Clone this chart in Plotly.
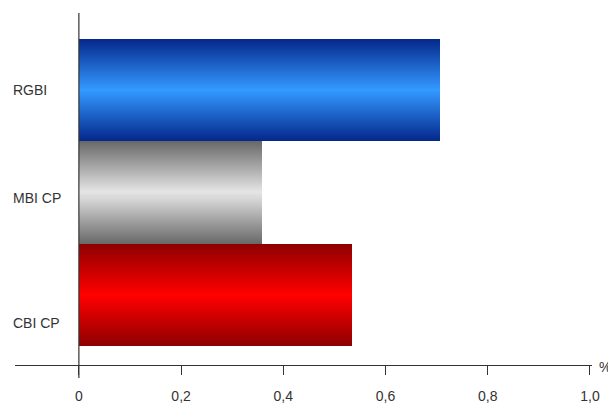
import plotly.graph_objects as go

categories = ["CBI CP", "MBI CP", "RGBI"]
values = [0.534, 0.358, 0.706]
edge_colors = [(142, 0, 0), (105, 105, 105), (5, 40, 140)]
center_colors = [(255, 0, 0), (228, 228, 228), (51, 153, 255)]
tick_vals = [0, 0.2, 0.4, 0.6, 0.8, 1.0]
tick_text = ["0", "0,2", "0,4", "0,6", "0,8", "1,0"]
label_shift = [-28, -6, 0]

N = 51
fig = go.Figure()
for k in range(N):
    t = k / (N - 1)
    w = 1.0 - k / N
    cols = []
    for e, c in zip(edge_colors, center_colors):
        r = [round(e[i] + (c[i] - e[i]) * t) for i in range(3)]
        cols.append(f"rgb({r[0]},{r[1]},{r[2]})")
    fig.add_trace(go.Bar(
        y=categories, x=values, orientation="h", width=w,
        marker=dict(color=cols, line=dict(width=0)),
        hoverinfo="skip", showlegend=False,
    ))

for cat, s in zip(categories, label_shift):
    fig.add_annotation(x=0, xref="paper", xanchor="left", xshift=-4, y=cat, yref="y",
                       yshift=s, text=cat, showarrow=False,
                       font=dict(size=14, color="#333333"))

fig.add_annotation(x=1, xref="paper", xanchor="left", xshift=5, y=0, yref="paper",
                   yanchor="middle", yshift=-2, text="%", showarrow=False,
                   font=dict(size=14, color="#333333"))

fig.add_shape(type="line", xref="x", yref="paper", x0=0, x1=0, y0=-0.037, y1=1,
              line=dict(color="#333333", width=1.2))

# page body has an 8px default margin, so the figure is smaller and margins offset
fig.update_layout(
    width=608, height=397,
    margin=dict(l=7, r=24, t=5, b=40, autoexpand=False),
    paper_bgcolor="white", plot_bgcolor="white",
    barmode="overlay", bargap=0,
    font=dict(family="Liberation Sans, Arial, sans-serif", size=14, color="#333333"),
    xaxis=dict(range=[-0.125, 1.004], showgrid=False, zeroline=False, automargin=False,
               showline=True, linecolor="#333333", linewidth=1.2,
               tickvals=tick_vals, ticktext=tick_text,
               ticks="outside", ticklen=9, tickcolor="#333333", tickwidth=1.2,
               ticklabelstandoff=9,
               tickfont=dict(size=14, color="#333333")),
    yaxis=dict(range=[-0.686, 2.754], showgrid=False, zeroline=False, automargin=False,
               showline=False, showticklabels=False, ticks=""),
)

fig.write_html("out.html")
